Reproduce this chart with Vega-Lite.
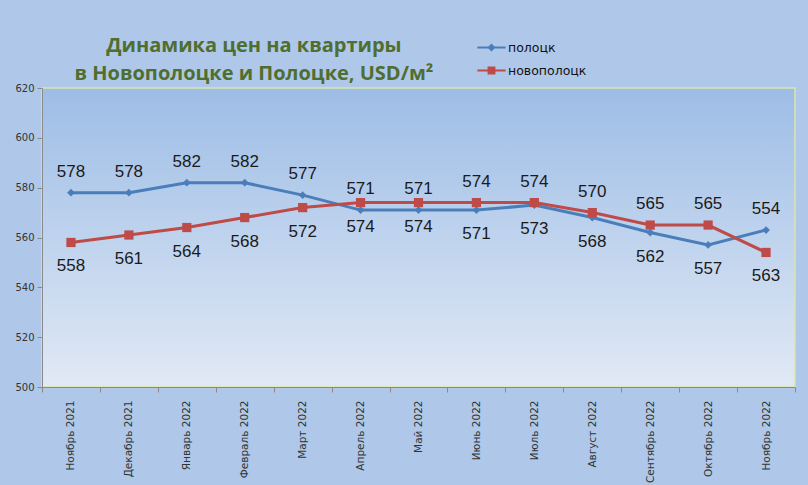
{
  "$schema": "https://vega.github.io/schema/vega-lite/v6.json",
  "width": 753,
  "height": 299,
  "autosize": {"type": "none"},
  "padding": {"left": 42, "top": 88, "right": 13, "bottom": 98},
  "background": "#afc8e9",
  "title": {
    "text": ["Динамика цен на квартиры", "в Новополоцке и Полоцке, USD/м²"],
    "anchor": "start",
    "align": "center",
    "dx": 239,
    "dy": 62,
    "offset": 10,
    "font": "Open Sans",
    "fontSize": 20,
    "fontWeight": "bold",
    "color": "#4f6e2f",
    "lineHeight": 28
  },
  "config": {
    "view": {
      "fill": {
        "gradient": "linear",
        "x1": 0, "y1": 0, "x2": 0, "y2": 1,
        "stops": [
          {"offset": 0, "color": "#9dbde6"},
          {"offset": 1, "color": "#e1e9f5"}
        ]
      },
      "stroke": "#d9e6a8",
      "strokeWidth": 1.5
    },
    "axis": {
      "labelFont": "DejaVu Sans",
      "labelColor": "#333333",
      "domainColor": "#8a8a8a",
      "tickColor": "#8a8a8a",
      "grid": false,
      "title": null
    }
  },
  "data": {
    "values": [
      {"month": "Ноябрь 2021", "series": "полоцк", "value": 578, "label": "578"},
      {"month": "Декабрь 2021", "series": "полоцк", "value": 578, "label": "578"},
      {"month": "Январь 2022", "series": "полоцк", "value": 582, "label": "582"},
      {"month": "Февраль 2022", "series": "полоцк", "value": 582, "label": "582"},
      {"month": "Март 2022", "series": "полоцк", "value": 577, "label": "577"},
      {"month": "Апрель 2022", "series": "полоцк", "value": 571, "label": "571"},
      {"month": "Май 2022", "series": "полоцк", "value": 571, "label": "571"},
      {"month": "Июнь 2022", "series": "полоцк", "value": 571, "label": "571"},
      {"month": "Июль 2022", "series": "полоцк", "value": 573, "label": "573"},
      {"month": "Август 2022", "series": "полоцк", "value": 568, "label": "568"},
      {"month": "Сентябрь 2022", "series": "полоцк", "value": 562, "label": "562"},
      {"month": "Октябрь 2022", "series": "полоцк", "value": 557, "label": "557"},
      {"month": "Ноябрь 2022", "series": "полоцк", "value": 563, "label": "554"},
      {"month": "Ноябрь 2021", "series": "новополоцк", "value": 558, "label": "558"},
      {"month": "Декабрь 2021", "series": "новополоцк", "value": 561, "label": "561"},
      {"month": "Январь 2022", "series": "новополоцк", "value": 564, "label": "564"},
      {"month": "Февраль 2022", "series": "новополоцк", "value": 568, "label": "568"},
      {"month": "Март 2022", "series": "новополоцк", "value": 572, "label": "572"},
      {"month": "Апрель 2022", "series": "новополоцк", "value": 574, "label": "574"},
      {"month": "Май 2022", "series": "новополоцк", "value": 574, "label": "574"},
      {"month": "Июнь 2022", "series": "новополоцк", "value": 574, "label": "574"},
      {"month": "Июль 2022", "series": "новополоцк", "value": 574, "label": "574"},
      {"month": "Август 2022", "series": "новополоцк", "value": 570, "label": "570"},
      {"month": "Сентябрь 2022", "series": "новополоцк", "value": 565, "label": "565"},
      {"month": "Октябрь 2022", "series": "новополоцк", "value": 565, "label": "565"},
      {"month": "Ноябрь 2022", "series": "новополоцк", "value": 554, "label": "563"}
    ]
  },
  "encoding": {
    "x": {
      "field": "month",
      "type": "ordinal",
      "sort": null,
      "scale": {"paddingInner": 0, "paddingOuter": 0},
      "axis": {
        "labelAngle": -90,
        "labelFontSize": 10.5,
        "labelPadding": 8,
        "tickBand": "extent",
        "tickSize": 5
      }
    },
    "y": {
      "field": "value",
      "type": "quantitative",
      "scale": {"domain": [500, 620], "nice": false, "zero": false},
      "axis": {"values": [500, 520, 540, 560, 580, 600, 620], "labelFontSize": 10, "tickSize": 5, "labelPadding": 3}
    }
  },
  "layer": [
    {
      "transform": [{"filter": "datum.series == 'полоцк'"}],
      "mark": {"type": "line", "strokeWidth": 3},
      "encoding": {
        "color": {
          "field": "series",
          "type": "nominal",
          "scale": {"domain": ["полоцк", "новополоцк"], "range": ["#4a7ebb", "#be4b48"]},
          "legend": {
            "orient": "none",
            "legendX": 434,
            "legendY": -56,
            "title": null,
            "labelFont": "DejaVu Sans",
            "labelFontSize": 12.5,
            "labelColor": "#111111",
            "labelOffset": 1,
            "symbolSize": 800,
            "rowPadding": -2,
            "encode": {
              "symbols": {
                "update": {
                  "shape": {"signal": "datum.value === 'полоцк' ? 'M-1,0L1,0M0,-0.18L0.18,0L0,0.18L-0.18,0Z' : 'M-1,0L1,0M-0.2,-0.2L0.2,-0.2L0.2,0.2L-0.2,0.2Z'"},
                  "fill": {"signal": "scale('color', datum.value)"},
                  "stroke": {"signal": "scale('color', datum.value)"},
                  "strokeWidth": {"value": 2.2}
                }
              }
            }
          }
        }
      }
    },
    {
      "transform": [{"filter": "datum.series == 'новополоцк'"}],
      "mark": {"type": "line", "strokeWidth": 3, "color": "#be4b48"},
      "encoding": {}
    },
    {
      "transform": [{"filter": "datum.series == 'полоцк'"}],
      "mark": {"type": "point", "shape": "diamond", "filled": true, "opacity": 1, "size": 60, "color": "#4a7ebb"},
      "encoding": {}
    },
    {
      "transform": [{"filter": "datum.series == 'новополоцк'"}],
      "mark": {"type": "point", "shape": "square", "filled": true, "opacity": 1, "size": 85, "color": "#be4b48"},
      "encoding": {}
    },
    {
      "transform": [{"filter": "indexof(['Июнь 2022','Июль 2022','Август 2022','Сентябрь 2022','Октябрь 2022'], datum.month) >= 0 ? datum.series == 'новополоцк' : datum.series == 'полоцк'"}],
      "mark": {"type": "text", "dy": -21, "baseline": "middle", "font": "Liberation Sans", "fontSize": 17, "color": "#1a1a1a"},
      "encoding": {"text": {"field": "label"}}
    },
    {
      "transform": [{"filter": "indexof(['Июнь 2022','Июль 2022','Август 2022','Сентябрь 2022','Октябрь 2022'], datum.month) >= 0 ? datum.series == 'полоцк' : datum.series == 'новополоцк'"}],
      "mark": {"type": "text", "dy": 24, "baseline": "middle", "font": "Liberation Sans", "fontSize": 17, "color": "#1a1a1a"},
      "encoding": {"text": {"field": "label"}}
    }
  ]
}
